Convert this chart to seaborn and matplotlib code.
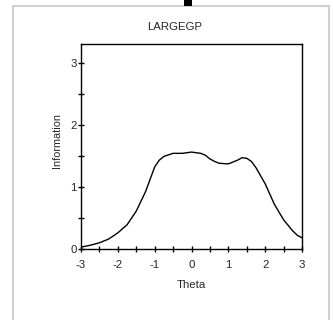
import matplotlib
matplotlib.use("Agg")
import matplotlib.pyplot as plt
import seaborn as sns
import pandas as pd
from matplotlib.patches import Rectangle
from matplotlib.ticker import MultipleLocator

theta = [-3, -2.75, -2.5, -2.25, -2, -1.75, -1.5, -1.25, -1.125, -1, -0.875, -0.75,
         -0.5, -0.25, 0, 0.25, 0.375, 0.5, 0.625, 0.75, 1, 1.25, 1.375, 1.5, 1.625,
         1.75, 2, 2.25, 2.5, 2.75, 2.875, 3]
information = [0.03, 0.06, 0.10, 0.16, 0.26, 0.39, 0.61, 0.92, 1.12, 1.32, 1.43, 1.49,
               1.54, 1.54, 1.56, 1.54, 1.51, 1.45, 1.41, 1.38, 1.37, 1.43, 1.47, 1.46, 1.41,
               1.31, 1.05, 0.72, 0.47, 0.29, 0.22, 0.18]
title = "LARGEGP"
x_label = "Theta"
y_label = "Information"
x_ticks = [-3, -2, -1, 0, 1, 2, 3]
y_ticks = [0, 1, 2, 3]

sns.set_style("white")
plt.rcParams['font.family'] = ['Liberation Sans', 'DejaVu Sans']
FS = 8.2

W, H = 333, 320
fig = plt.figure(figsize=(W / 100, H / 100), dpi=100)

# panel border and tab
fig.patches.append(Rectangle((13 / W, -0.1), (329 - 13) / W, (H - 6) / H + 0.1,
                             transform=fig.transFigure, fill=False,
                             edgecolor="#d0d0d0", linewidth=1.5, zorder=0))
fig.patches.append(Rectangle((184 / W, (H - 6) / H), 8 / W, 6 / H,
                             transform=fig.transFigure, facecolor="black",
                             edgecolor="none", zorder=1))

ax = fig.add_axes([81 / W, 1 - 249 / H, (302 - 81) / W, (249 - 44) / H])
df = pd.DataFrame({"Theta": theta, "Information": information})
sns.lineplot(data=df, x="Theta", y="Information", ax=ax, color="black", linewidth=1.0)

ax.set_xlim(-3, 3)
ax.set_ylim(0, 3.3)
ax.set_xticks(x_ticks)
ax.set_xticklabels([str(t) for t in x_ticks])
ax.set_yticks(y_ticks)
ax.set_yticklabels([str(t) for t in y_ticks])
ax.xaxis.set_minor_locator(MultipleLocator(0.5))
ax.yaxis.set_minor_locator(MultipleLocator(0.5))
ax.tick_params(axis="both", which="both", direction="inout", length=4.3, width=1,
               color="black", labelsize=FS, left=True, bottom=True)
ax.tick_params(axis="x", which="both", pad=5.5)
ax.tick_params(axis="y", which="both", pad=1)
for s in ax.spines.values():
    s.set_color("black")
    s.set_linewidth(1.0)
ax.set_xlabel(x_label, fontsize=FS)
ax.set_ylabel(y_label, fontsize=7.8)
ax.xaxis.set_label_coords(0.5, (249 - 285) / 205)
ax.xaxis.label.set_va("center")
ax.yaxis.set_label_coords((57 - 81) / 221, (249 - 140) / 205)
ax.yaxis.label.set_va("center")

fig.text(175 / W, 1 - 27 / H, title, ha="center", va="center", fontsize=FS)

fig.savefig("out.png", dpi=100)
